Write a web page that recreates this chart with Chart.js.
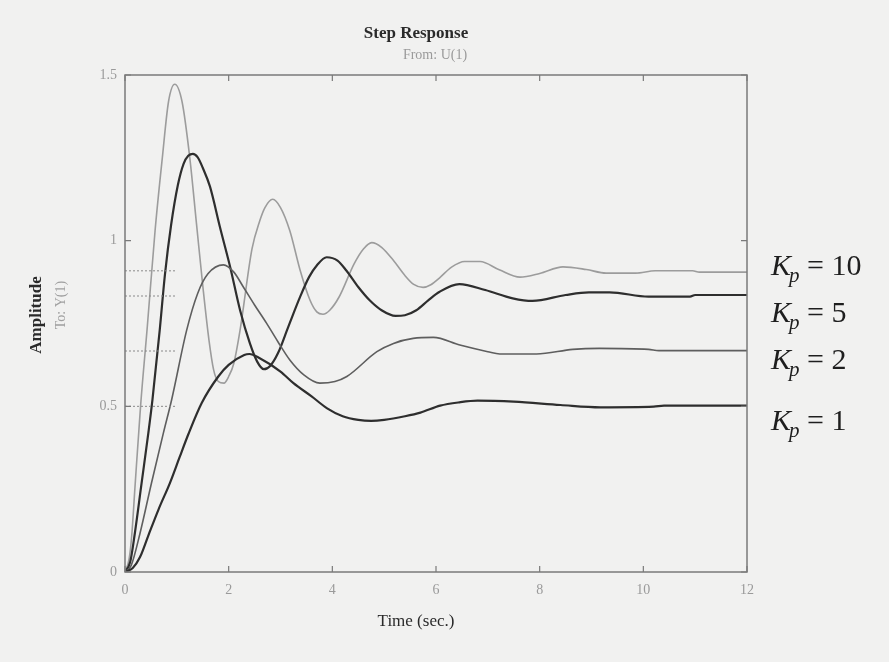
<!DOCTYPE html>
<html>
<head>
<meta charset="utf-8">
<script src="https://cdn.jsdelivr.net/npm/chart.js@4.4.1/dist/chart.umd.min.js"></script>
<style>
  html, body { margin: 0; padding: 0; background: #f1f1f0; }
  #wrap { width: 889px; height: 662px; position: relative; }
</style>
</head>
<body>
<div id="wrap"><canvas id="step-chart" width="889" height="662"></canvas></div>
<script>
// values
const kp10Time = [0, 0.08, 0.13, 0.19, 0.3, 0.43, 0.58, 0.72, 0.84, 0.96, 1.1, 1.25, 1.38, 1.51, 1.62, 1.71, 1.8, 1.91, 2.0, 2.1, 2.22, 2.45, 2.6, 2.7, 2.85, 3.0, 3.18, 3.38, 3.57, 3.7, 3.82, 3.95, 4.13, 4.42, 4.6, 4.76, 4.95, 5.18, 5.4, 5.57, 5.75, 5.9, 6.07, 6.3, 6.55, 6.85, 7.22, 7.62, 8.0, 8.45, 8.9, 9.28, 9.85, 10.23, 10.95, 11.08, 12];
const kp10Amp = [0, 0.04, 0.11, 0.25, 0.5, 0.74, 1.03, 1.25, 1.42, 1.472, 1.42, 1.25, 1.05, 0.85, 0.7, 0.61, 0.575, 0.57, 0.59, 0.63, 0.73, 0.975, 1.06, 1.1, 1.125, 1.1, 1.03, 0.91, 0.82, 0.785, 0.778, 0.79, 0.83, 0.93, 0.975, 0.994, 0.98, 0.94, 0.895, 0.868, 0.859, 0.867, 0.888, 0.92, 0.937, 0.937, 0.912, 0.89, 0.901, 0.921, 0.913, 0.902, 0.902, 0.909, 0.909, 0.905, 0.905];

const kp5Time = [0, 0.1, 0.19, 0.32, 0.45, 0.53, 0.67, 0.77, 0.89, 1.02, 1.13, 1.22, 1.31, 1.4, 1.5, 1.64, 1.83, 2.03, 2.22, 2.41, 2.55, 2.68, 2.8, 2.95, 3.15, 3.38, 3.55, 3.7, 3.89, 4.1, 4.27, 4.5, 4.72, 4.95, 5.22, 5.4, 5.62, 5.85, 6.07, 6.45, 6.95, 7.48, 7.86, 8.5, 8.95, 9.35, 10.1, 10.9, 11.0, 12];
const kp5Amp = [0, 0.03, 0.117, 0.268, 0.419, 0.52, 0.73, 0.897, 1.048, 1.168, 1.232, 1.256, 1.262, 1.252, 1.22, 1.163, 1.042, 0.92, 0.79, 0.69, 0.635, 0.612, 0.622, 0.66, 0.74, 0.831, 0.89, 0.925, 0.95, 0.94, 0.91, 0.86, 0.82, 0.79, 0.773, 0.775, 0.79, 0.82, 0.846, 0.869, 0.851, 0.826, 0.818, 0.836, 0.844, 0.844, 0.831, 0.831, 0.836, 0.836];

const kp2Time = [0, 0.12, 0.29, 0.51, 0.74, 0.9, 1.19, 1.4, 1.6, 1.9, 2.1, 2.28, 2.5, 2.73, 2.95, 3.18, 3.45, 3.76, 4.05, 4.28, 4.86, 5.18, 5.56, 5.95, 6.46, 7.0, 7.23, 7.94, 8.64, 9.15, 10.1, 10.3, 12];
const kp2Amp = [0, 0.02, 0.117, 0.268, 0.419, 0.52, 0.73, 0.84, 0.9, 0.927, 0.905, 0.861, 0.806, 0.751, 0.695, 0.64, 0.595, 0.57, 0.575, 0.59, 0.665, 0.69, 0.705, 0.708, 0.685, 0.665, 0.658, 0.658, 0.672, 0.675, 0.672, 0.668, 0.668];

const kp1Time = [0, 0.15, 0.29, 0.45, 0.65, 0.87, 1.05, 1.22, 1.48, 1.8, 2.0, 2.3, 2.4, 2.6, 3.0, 3.25, 3.6, 3.9, 4.2, 4.5, 4.75, 5.0, 5.4, 5.7, 6.08, 6.45, 6.8, 7.5, 8.4, 9.17, 10.2, 10.4, 12];
const kp1Amp = [0, 0.012, 0.045, 0.11, 0.19, 0.27, 0.345, 0.415, 0.51, 0.59, 0.625, 0.655, 0.658, 0.645, 0.605, 0.57, 0.53, 0.494, 0.47, 0.459, 0.456, 0.459, 0.47, 0.481, 0.502, 0.512, 0.517, 0.514, 0.504, 0.497, 0.499, 0.502, 0.502];

// dotted steady-state markers near the y axis
const refLevels = [0.909, 0.833, 0.667, 0.5];
const refEnd = 0.97;

const xTicks = [0, 2, 4, 6, 8, 10, 12];
const yTicks = [0, 0.5, 1, 1.5];

const kpLabels = ["10", "5", "2", "1"];
const kpLabelY = [275, 322, 369, 430];

const SERIF = "'Liberation Serif', 'DejaVu Serif', serif";

function toPoints(ts, ys) {
  return ts.map((t, i) => ({ x: t, y: ys[i] }));
}

function curve(ts, ys, color, width) {
  return {
    data: toPoints(ts, ys),
    borderColor: color,
    borderWidth: width,
    pointRadius: 0,
    cubicInterpolationMode: "monotone",
    fill: false,
  };
}

const datasets = [
  ...refLevels.map((lvl) => ({
    data: [{ x: 0, y: lvl }, { x: refEnd, y: lvl }],
    borderColor: "#8a8a8a",
    borderWidth: 1,
    borderDash: [2, 2],
    pointRadius: 0,
  })),
  curve(kp1Time, kp1Amp, "#2e2e2e", 2.2),
  curve(kp2Time, kp2Amp, "#5e5e5e", 1.6),
  curve(kp5Time, kp5Amp, "#2e2e2e", 2.2),
  curve(kp10Time, kp10Amp, "#9c9c9c", 1.6),
];

// frame, inward tick marks and all the annotation text
const decorPlugin = {
  id: "decor",
  afterDraw(chart) {
    const { ctx, chartArea: a, scales } = chart;
    const xs = scales.x, ys = scales.y;
    ctx.save();
    ctx.strokeStyle = "#7a7a7a";
    ctx.lineWidth = 1.5;
    ctx.strokeRect(a.left, a.top, a.right - a.left, a.bottom - a.top);
    ctx.lineWidth = 1.2;
    ctx.beginPath();
    xTicks.forEach((v) => {
      const px = xs.getPixelForValue(v);
      ctx.moveTo(px, a.bottom); ctx.lineTo(px, a.bottom - 6);
      ctx.moveTo(px, a.top); ctx.lineTo(px, a.top + 6);
    });
    yTicks.forEach((v) => {
      const py = ys.getPixelForValue(v);
      ctx.moveTo(a.left, py); ctx.lineTo(a.left + 6, py);
      ctx.moveTo(a.right, py); ctx.lineTo(a.right - 6, py);
    });
    ctx.stroke();

    ctx.textAlign = "center";
    ctx.textBaseline = "middle";
    ctx.fillStyle = "#2a2a2a";
    ctx.font = "bold 17px " + SERIF;
    ctx.fillText("Step Response", 416, 34);
    ctx.fillStyle = "#9a9a9a";
    ctx.font = "14px " + SERIF;
    ctx.fillText("From: U(1)", 435, 55);
    ctx.fillStyle = "#2a2a2a";
    ctx.font = "17px " + SERIF;
    ctx.fillText("Time (sec.)", 416, 622);

    ctx.save();
    ctx.translate(37, 315);
    ctx.rotate(-Math.PI / 2);
    ctx.font = "bold 17px " + SERIF;
    ctx.fillStyle = "#2a2a2a";
    ctx.fillText("Amplitude", 0, 0);
    ctx.restore();
    ctx.save();
    ctx.translate(61, 305);
    ctx.rotate(-Math.PI / 2);
    ctx.font = "14px " + SERIF;
    ctx.fillStyle = "#a0a0a0";
    ctx.fillText("To: Y(1)", 0, 0);
    ctx.restore();

    // K_p labels on the right
    ctx.textAlign = "left";
    ctx.textBaseline = "alphabetic";
    ctx.fillStyle = "#1e1e1e";
    kpLabels.forEach((txt, i) => {
      let x = 771;
      const y = kpLabelY[i];
      ctx.font = "italic 30px " + SERIF;
      ctx.fillText("K", x, y);
      x += ctx.measureText("K").width - 2;
      ctx.font = "italic 21px " + SERIF;
      ctx.fillText("p", x, y + 7);
      x += ctx.measureText("p").width;
      ctx.font = "30px " + SERIF;
      ctx.fillText(" = " + txt, x, y);
    });
    ctx.restore();
  },
};

new Chart(document.getElementById("step-chart").getContext("2d"), {
  type: "line",
  data: { datasets },
  options: {
    responsive: false,
    animation: false,
    events: [],
    layout: { padding: { left: 65, right: 142, top: 75, bottom: 60 } },
    plugins: { legend: { display: false }, tooltip: { enabled: false } },
    scales: {
      x: {
        type: "linear",
        min: 0,
        max: 12,
        afterFit: (s) => { s.height = 30; },
        afterBuildTicks: (s) => { s.ticks = xTicks.map((v) => ({ value: v })); },
        grid: { display: false, drawTicks: false },
        border: { display: false },
        ticks: { color: "#9a9a9a", padding: 10, font: { family: SERIF, size: 14 }, callback: (v) => String(v) },
      },
      y: {
        type: "linear",
        min: 0,
        max: 1.5,
        afterFit: (s) => { s.width = 60; },
        afterBuildTicks: (s) => { s.ticks = yTicks.map((v) => ({ value: v })); },
        grid: { display: false, drawTicks: false },
        border: { display: false },
        ticks: { color: "#9a9a9a", padding: 8, font: { family: SERIF, size: 14 }, callback: (v) => String(v) },
      },
    },
  },
  plugins: [decorPlugin],
});
</script>
</body>
</html>
